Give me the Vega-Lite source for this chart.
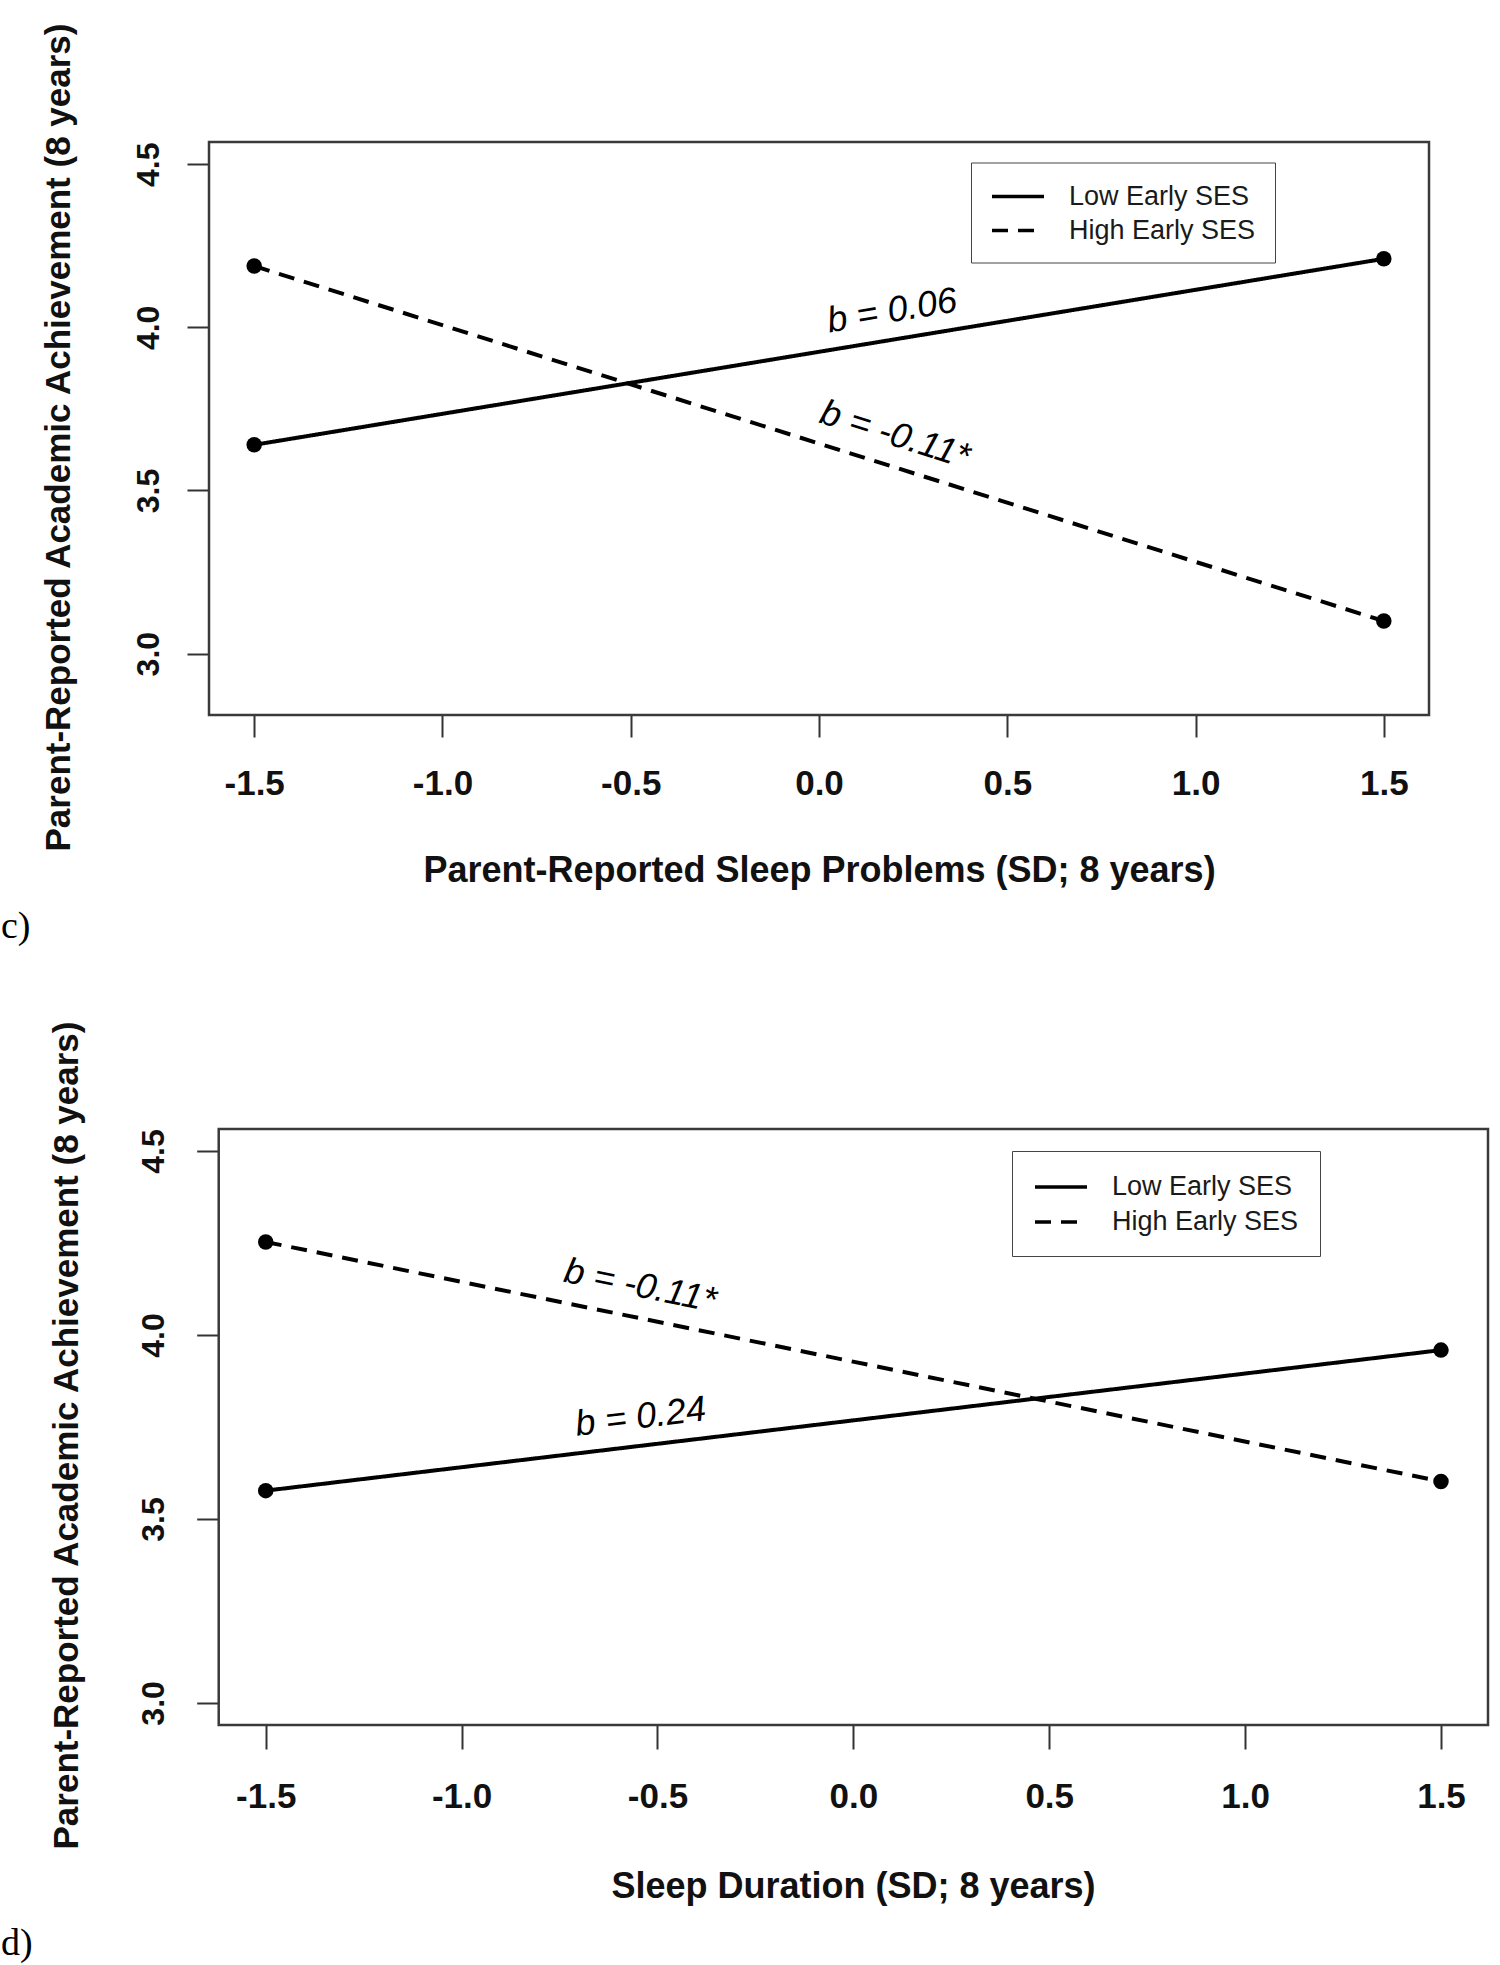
{
  "$schema": "https://vega.github.io/schema/vega-lite/v6.json",
  "background": "white",
  "autosize": {"type": "none"},
  "padding": {"left": 209, "top": 142, "right": 1291, "bottom": 1823},
  "config": {
    "view": {"stroke": null},
    "font": "Liberation Sans",
    "locale": {"number": {"decimal": ".", "thousands": ",", "grouping": [3], "currency": ["$", ""], "minus": "-"}}
  },
  "resolve": {"scale": {"strokeDash": "independent"}, "legend": {"strokeDash": "independent"}},
  "datasets": {
    "panelC": [
      {"x": -1.5, "y": 3.640, "group": "Low Early SES"},
      {"x": 1.5, "y": 4.210, "group": "Low Early SES"},
      {"x": -1.5, "y": 4.188, "group": "High Early SES"},
      {"x": 1.5, "y": 3.100, "group": "High Early SES"}
    ],
    "panelD": [
      {"x": -1.5, "y": 3.577, "group": "Low Early SES"},
      {"x": 1.5, "y": 3.959, "group": "Low Early SES"},
      {"x": -1.5, "y": 4.253, "group": "High Early SES"},
      {"x": 1.5, "y": 3.602, "group": "High Early SES"}
    ],
    "labelsC": [
      {"x": 0.194, "y": 4.050, "label": "b = 0.06"},
      {"x": 0.202, "y": 3.670, "label": "b = -0.11*"}
    ],
    "labelsD": [
      {"x": -0.544, "y": 4.133, "label": "b = -0.11*"},
      {"x": -0.543, "y": 3.777, "label": "b = 0.24"}
    ]
  },
  "vconcat": [
    {
      "width": 1220,
      "height": 573,
      "title": {"text": "c)", "orient": "bottom", "anchor": "start", "frame": "group", "font": "Liberation Serif", "fontSize": 38, "fontWeight": "normal", "color": "black", "dx": -208, "offset": 20},
      "layer": [
        {
          "data": {"values": [{}]},
          "mark": {"type": "rect", "filled": false, "stroke": "#3a3a3a", "strokeWidth": 2.5},
          "encoding": {
            "x": {"datum": -1.62, "type": "quantitative"},
            "x2": {"datum": 1.62},
            "y": {"datum": 2.812, "type": "quantitative"},
            "y2": {"datum": 4.568}
          }
        },
        {
          "data": {"name": "panelC"},
          "mark": {"type": "line", "color": "black", "strokeWidth": 4},
          "encoding": {
            "x": {"field": "x", "type": "quantitative",
              "scale": {"domain": [-1.62, 1.62], "nice": false, "zero": false},
              "axis": {"values": [-1.5, -1, -0.5, 0, 0.5, 1, 1.5], "format": ".1f", "domain": false, "grid": false,
                "tickSize": 22, "tickColor": "#333", "tickWidth": 2,
                "labelFont": "Liberation Sans", "labelFontWeight": "bold", "labelFontSize": 35, "labelColor": "#111",
                "labelBaseline": "alphabetic", "labelPadding": 57, "labelFlush": false, "labelOverlap": false, "labelBound": false,
                "title": "Parent-Reported Sleep Problems (SD; 8 years)", "titleFont": "Liberation Sans", "titleFontWeight": "bold", "titleFontSize": 36, "titleColor": "#111",
                "titleBaseline": "alphabetic", "titleAnchor": "middle", "titleY": 166}},
            "y": {"field": "y", "type": "quantitative",
              "scale": {"domain": [2.812, 4.568], "nice": false, "zero": false},
              "axis": {"values": [3, 3.5, 4, 4.5], "format": ".1f", "domain": false, "grid": false,
                "tickSize": 22, "tickColor": "#333", "tickWidth": 2,
                "labelFont": "Liberation Sans", "labelFontWeight": "bold", "labelFontSize": 32, "labelColor": "#111",
                "labelAngle": -90, "labelAlign": "center", "labelBaseline": "alphabetic", "labelPadding": 29, "labelFlush": false, "labelOverlap": false, "labelBound": false,
                "title": "Parent-Reported Academic Achievement (8 years)", "titleFont": "Liberation Sans", "titleFontWeight": "bold", "titleFontSize": 35, "titleColor": "#111",
                "titleAngle": -90, "titleAlign": "center", "titleBaseline": "alphabetic", "titleX": -140, "titleY": 295}},
            "strokeDash": {"field": "group", "type": "nominal",
              "scale": {"domain": ["Low Early SES", "High Early SES"], "range": [[1, 0], [16, 10]]},
              "legend": {"orient": "none", "legendX": 762, "legendY": 20.5, "title": null, "direction": "vertical",
                "symbolType": "M-2,0H2", "symbolSize": 676, "symbolOffset": 13, "symbolStrokeWidth": 3.5, "symbolStrokeColor": "black",
                "labelFont": "Liberation Sans", "labelFontSize": 27, "labelColor": "#1a1a1a", "labelOffset": 36, "labelLimit": 400,
                "rowPadding": 6, "padding": 19, "strokeColor": "#444", "fillColor": "white"}}
          }
        },
        {
          "data": {"name": "panelC"},
          "mark": {"type": "point", "filled": true, "size": 240, "color": "black", "opacity": 1},
          "encoding": {
            "x": {"field": "x", "type": "quantitative"},
            "y": {"field": "y", "type": "quantitative"}
          }
        },
        {
          "data": {"name": "labelsC"},
          "transform": [{"filter": "datum.label === 'b = 0.06'"}],
          "mark": {"type": "text", "angle": -9.4, "fontSize": 36, "fontStyle": "italic", "font": "Liberation Sans", "align": "center", "baseline": "middle", "color": "black"},
          "encoding": {
            "x": {"field": "x", "type": "quantitative"},
            "y": {"field": "y", "type": "quantitative"},
            "text": {"field": "label"}
          }
        },
        {
          "data": {"name": "labelsC"},
          "transform": [{"filter": "datum.label === 'b = -0.11*'"}],
          "mark": {"type": "text", "angle": 17.5, "fontSize": 36, "fontStyle": "italic", "font": "Liberation Sans", "align": "center", "baseline": "middle", "color": "black"},
          "encoding": {
            "x": {"field": "x", "type": "quantitative"},
            "y": {"field": "y", "type": "quantitative"},
            "text": {"field": "label"}
          }
        }
      ]
    },
    {
      "width": 1279,
      "height": 596,
      "title": {"text": "d)", "orient": "bottom", "anchor": "start", "frame": "group", "font": "Liberation Serif", "fontSize": 38, "fontWeight": "normal", "color": "black", "dx": -208, "offset": 21},
      "layer": [
        {
          "data": {"values": [{}]},
          "mark": {"type": "rect", "filled": false, "stroke": "#3a3a3a", "strokeWidth": 2.5},
          "encoding": {
            "x": {"datum": -1.62, "type": "quantitative"},
            "x2": {"datum": 1.62},
            "y": {"datum": 2.94, "type": "quantitative"},
            "y2": {"datum": 4.56}
          }
        },
        {
          "data": {"name": "panelD"},
          "mark": {"type": "line", "color": "black", "strokeWidth": 4},
          "encoding": {
            "x": {"field": "x", "type": "quantitative",
              "scale": {"domain": [-1.6448, 1.62], "nice": false, "zero": false},
              "axis": {"values": [-1.5, -1, -0.5, 0, 0.5, 1, 1.5], "format": ".1f", "domain": false, "grid": false,
                "tickSize": 24, "tickColor": "#333", "tickWidth": 2,
                "labelFont": "Liberation Sans", "labelFontWeight": "bold", "labelFontSize": 35, "labelColor": "#111",
                "labelBaseline": "alphabetic", "labelPadding": 58, "labelFlush": false, "labelOverlap": false, "labelBound": false,
                "title": "Sleep Duration (SD; 8 years)", "titleFont": "Liberation Sans", "titleFontWeight": "bold", "titleFontSize": 36, "titleColor": "#111",
                "titleBaseline": "alphabetic", "titleAnchor": "middle", "titleY": 172, "titleX": 644}},
            "y": {"field": "y", "type": "quantitative",
              "scale": {"domain": [2.94, 4.56], "nice": false, "zero": false},
              "axis": {"values": [3, 3.5, 4, 4.5], "format": ".1f", "domain": false, "grid": false, "offset": -9.7,
                "tickSize": 22, "tickColor": "#333", "tickWidth": 2,
                "labelFont": "Liberation Sans", "labelFontWeight": "bold", "labelFontSize": 32, "labelColor": "#111",
                "labelAngle": -90, "labelAlign": "center", "labelBaseline": "alphabetic", "labelPadding": 33, "labelFlush": false, "labelOverlap": false, "labelBound": false,
                "title": "Parent-Reported Academic Achievement (8 years)", "titleFont": "Liberation Sans", "titleFontWeight": "bold", "titleFontSize": 35, "titleColor": "#111",
                "titleAngle": -90, "titleAlign": "center", "titleBaseline": "alphabetic", "titleX": -141, "titleY": 306}},
            "strokeDash": {"field": "group", "type": "nominal",
              "scale": {"domain": ["Low Early SES", "High Early SES"], "range": [[1, 0], [16, 10]]},
              "legend": {"orient": "none", "legendX": 803, "legendY": 22, "title": null, "direction": "vertical",
                "symbolType": "M-2,0H2", "symbolSize": 676, "symbolOffset": 13, "symbolStrokeWidth": 3.5, "symbolStrokeColor": "black",
                "labelFont": "Liberation Sans", "labelFontSize": 27, "labelColor": "#1a1a1a", "labelOffset": 36, "labelLimit": 400,
                "rowPadding": 7, "padding": 21, "strokeColor": "#444", "fillColor": "white"}}
          }
        },
        {
          "data": {"name": "panelD"},
          "mark": {"type": "point", "filled": true, "size": 240, "color": "black", "opacity": 1},
          "encoding": {
            "x": {"field": "x", "type": "quantitative"},
            "y": {"field": "y", "type": "quantitative"}
          }
        },
        {
          "data": {"name": "labelsD"},
          "transform": [{"filter": "datum.label === 'b = -0.11*'"}],
          "mark": {"type": "text", "angle": 11.5, "fontSize": 36, "fontStyle": "italic", "font": "Liberation Sans", "align": "center", "baseline": "middle", "color": "black"},
          "encoding": {
            "x": {"field": "x", "type": "quantitative"},
            "y": {"field": "y", "type": "quantitative"},
            "text": {"field": "label"}
          }
        },
        {
          "data": {"name": "labelsD"},
          "transform": [{"filter": "datum.label === 'b = 0.24'"}],
          "mark": {"type": "text", "angle": -6.8, "fontSize": 36, "fontStyle": "italic", "font": "Liberation Sans", "align": "center", "baseline": "middle", "color": "black"},
          "encoding": {
            "x": {"field": "x", "type": "quantitative"},
            "y": {"field": "y", "type": "quantitative"},
            "text": {"field": "label"}
          }
        }
      ]
    }
  ],
  "spacing": 414,
  "bounds": "flush"
}
